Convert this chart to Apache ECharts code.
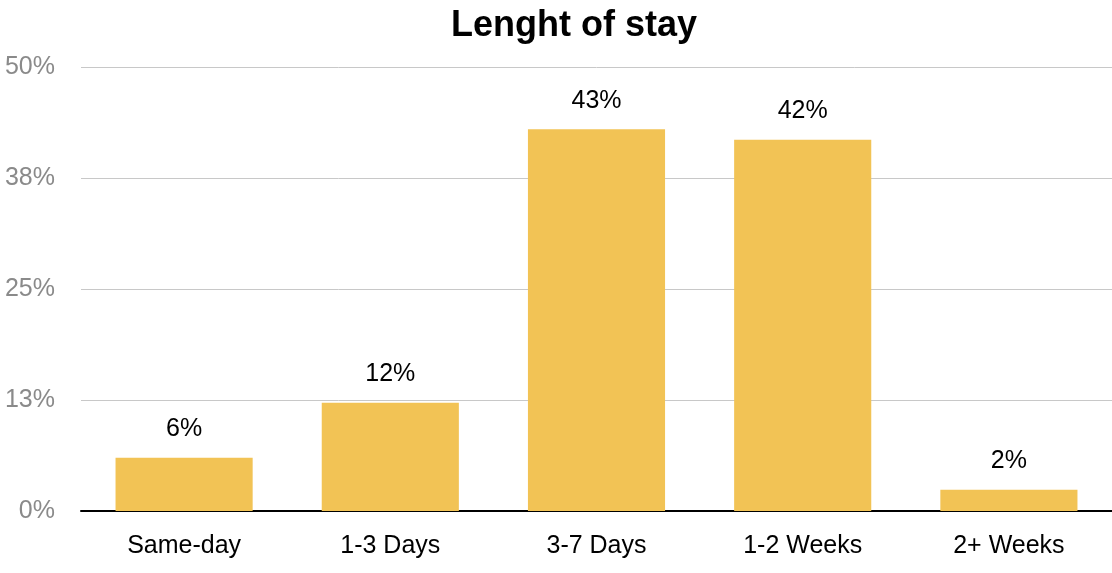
<!DOCTYPE html>
<html>
<head>
<meta charset="utf-8">
<script src="https://cdn.jsdelivr.net/npm/echarts@6/dist/echarts.min.js"></script>
<style>
    html, body { margin: 0; padding: 0; background: #fff; }
    #chart { width: 1112px; height: 573px; }
</style>
</head>
<body>
<div id="chart"></div>
<script>
// data
var categories = ['Same-day', '1-3 Days', '3-7 Days', '1-2 Weeks', '2+ Weeks'];
var stayShare = [6, 12.2, 43, 41.8, 2.4];
var yTicks = [0, 12.5, 25, 37.5, 50];

var chart = echarts.init(document.getElementById('chart'));
var font = 'Helvetica, "Liberation Sans", Arial, sans-serif';

chart.setOption({
    animation: false,
    title: {
        text: 'Lenght of stay',
        left: 446,
        top: 3,
        textStyle: { fontFamily: font, fontSize: 36, fontWeight: 'bold', color: '#000' }
    },
    grid: { left: 81, right: 0, top: 67, bottom: 62 },
    xAxis: {
        type: 'category',
        data: categories,
        axisLine: { lineStyle: { color: '#000', width: 2 } },
        axisTick: { show: false },
        axisLabel: { color: '#000', fontSize: 25, fontFamily: font, margin: 23 }
    },
    yAxis: {
        type: 'value',
        min: yTicks[0],
        max: yTicks[yTicks.length - 1],
        interval: 12.5,
        axisLine: { show: false },
        axisTick: { show: false },
        splitLine: { lineStyle: { color: '#c8c8c8', width: 1 } },
        axisLabel: {
            color: '#8a8a8a', fontSize: 25, fontFamily: font, margin: 26,
            formatter: function (v) { return Math.round(v) + '%'; }
        }
    },
    series: [{
        type: 'bar',
        data: stayShare,
        barWidth: '66.5%',
        itemStyle: { color: '#F2C355' },
        label: {
            show: true,
            position: 'top',
            distance: 16,
            color: '#000',
            fontSize: 25,
            fontFamily: font,
            formatter: function (p) { return Math.round(p.value) + '%'; }
        }
    }]
});
</script>
</body>
</html>
